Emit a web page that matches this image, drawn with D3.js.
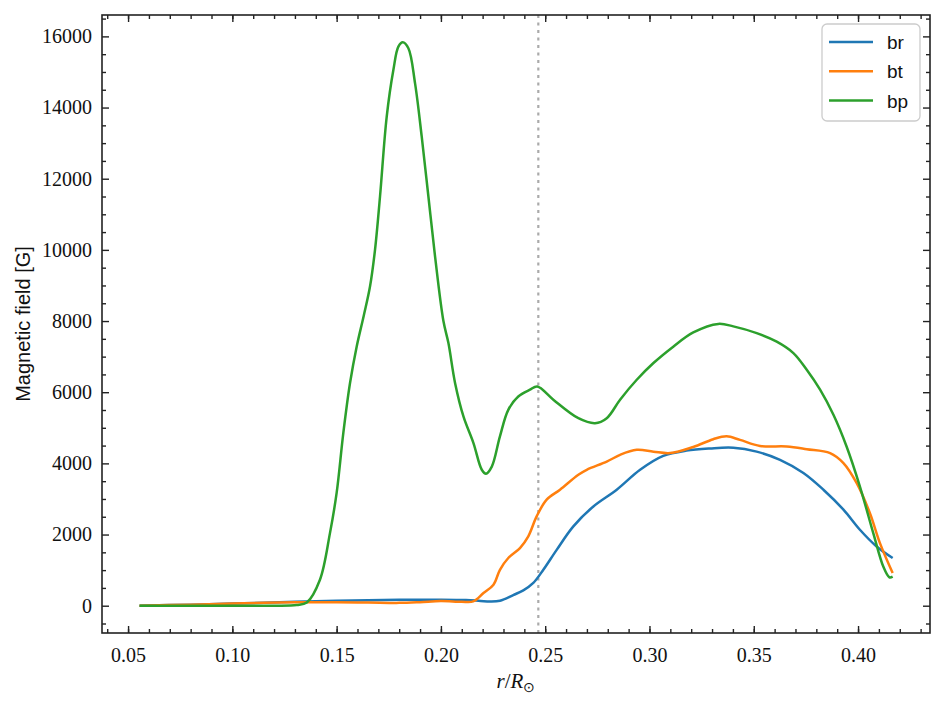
<!DOCTYPE html>
<html><head><meta charset="utf-8">
<script src="https://cdn.jsdelivr.net/npm/d3@7"></script>
<style>body{margin:0;background:#fff}</style>
</head><body>
<svg id="c" width="945" height="705"></svg>
<script>
const seriesNames = ["br", "bt", "bp"];
const seriesColors = ["#1f77b4", "#ff7f0e", "#2ca02c"];
const xTicks = [0.05, 0.10, 0.15, 0.20, 0.25, 0.30, 0.35, 0.40];
const yTicks = [0, 2000, 4000, 6000, 8000, 10000, 12000, 14000, 16000];
const vLineX = 0.2467;

const brX = [0.0555,0.08,0.10,0.13,0.15,0.18,0.20,0.212,0.219,0.2235,0.2283,0.2347,0.2395,0.2443,0.2491,0.2555,0.2635,0.2731,0.2843,0.2955,0.3066,0.3178,0.329,0.3402,0.3514,0.3626,0.3738,0.3834,0.393,0.4009,0.4089,0.4166];
const brY = [0,30,60,110,140,165,170,160,135,120,140,300,430,640,1010,1570,2230,2790,3260,3820,4210,4360,4420,4440,4330,4100,3730,3260,2700,2135,1665,1340];

const btX = [0.0555,0.08,0.10,0.13,0.15,0.165,0.18,0.19,0.20,0.21,0.2155,0.2204,0.2252,0.2283,0.2323,0.2379,0.2419,0.2459,0.2507,0.2571,0.2659,0.2699,0.2795,0.2859,0.2939,0.3019,0.3099,0.321,0.3306,0.337,0.3434,0.353,0.3658,0.3754,0.3866,0.393,0.3993,0.4057,0.4105,0.4166];
const btY = [0,30,60,95,95,90,80,100,130,110,120,355,590,1010,1340,1620,1950,2510,2980,3260,3680,3820,4050,4240,4380,4330,4290,4460,4680,4760,4660,4490,4475,4400,4290,4010,3450,2600,1760,920];

const bpX = [0.0555,0.09,0.12,0.1309,0.1357,0.142,0.1468,0.150,0.1532,0.1564,0.1596,0.1630,0.166,0.1684,0.1708,0.174,0.1772,0.1796,0.1817,0.1844,0.1876,0.1908,0.194,0.1972,0.2012,0.2036,0.2068,0.2108,0.2156,0.2196,0.2216,0.2244,0.2283,0.2323,0.2371,0.2427,0.2462,0.2539,0.2659,0.2739,0.2795,0.2859,0.2939,0.3019,0.3114,0.321,0.333,0.3402,0.3514,0.361,0.369,0.3754,0.3818,0.3882,0.3945,0.4009,0.4073,0.4121,0.4150,0.4166];
const bpY = [0,0,0,20,90,730,2040,3170,4850,6250,7280,8150,8970,10000,11500,13740,15055,15710,15834,15665,14680,13180,11500,9810,8000,7380,6255,5320,4570,3820,3710,3910,4760,5505,5880,6070,6160,5790,5270,5130,5270,5790,6350,6820,7280,7680,7920,7850,7660,7420,7100,6630,6070,5365,4475,3350,2040,1100,800,820];

const seriesX = [brX, btX, bpX];
const seriesY = [brY, btY, bpY];

const svg = d3.select("#c");
const L = 102, R = 930, T = 15, B = 633;
const x = d3.scaleLinear().domain([0.0375, 0.4345]).range([L, R]);
const y = d3.scaleLinear().domain([-767, 16601]).range([B, T]);

svg.append("clipPath").attr("id","cp").append("rect").attr("x",L).attr("y",T).attr("width",R-L).attr("height",B-T);
const g = svg.append("g").attr("clip-path","url(#cp)");
g.append("line").attr("x1",x(vLineX)).attr("x2",x(vLineX)).attr("y1",T).attr("y2",B)
  .attr("stroke","#aaaaaa").attr("stroke-width",2.2).attr("stroke-dasharray","3,4.5");
const line = d3.line().x(d=>x(d[0])).y(d=>y(d[1])).curve(d3.curveCatmullRom.alpha(0.5));
seriesNames.forEach((n,i)=>{
  const pts = seriesX[i].map((v,j)=>[v, seriesY[i][j]]);
  g.append("path").attr("d", line(pts)).attr("fill","none").attr("stroke",seriesColors[i])
    .attr("stroke-width",2.5).attr("stroke-linejoin","round").attr("stroke-linecap","butt");
});

const serif = "'Liberation Serif','Times New Roman',serif";
const sans = "'Liberation Sans',Arial,Helvetica,sans-serif";
function mkAxis(axis, tr){ const a = svg.append("g").attr("transform",tr).call(axis);
  a.select(".domain").remove(); a.selectAll("line").attr("stroke","#222").attr("stroke-width",1.4); return a; }
const xMinor = d3.range(4, 44).map(v=>v/100).filter(v=>v>0.0375&&v<0.4345);
const yMinor = d3.range(-500, 16601, 500).filter(v=>v%2000!==0);
const bx = mkAxis(d3.axisBottom(x).tickValues(xTicks).tickSizeInner(-7).tickSizeOuter(0).tickPadding(10).tickFormat(d3.format(".2f")), `translate(0,${B})`);
bx.selectAll("text").attr("font-family",serif).attr("font-size",20).attr("fill","#111").attr("dy","0.95em");
mkAxis(d3.axisBottom(x).tickValues(xMinor).tickSizeInner(-4).tickSizeOuter(0).tickFormat(""), `translate(0,${B})`);
mkAxis(d3.axisTop(x).tickValues(xTicks).tickSizeInner(-7).tickSizeOuter(0).tickFormat(""), `translate(0,${T})`);
mkAxis(d3.axisTop(x).tickValues(xMinor).tickSizeInner(-4).tickSizeOuter(0).tickFormat(""), `translate(0,${T})`);
const ly = mkAxis(d3.axisLeft(y).tickValues(yTicks).tickSizeInner(-7).tickSizeOuter(0).tickPadding(10).tickFormat(d3.format("d")), `translate(${L},0)`);
ly.selectAll("text").attr("font-family",serif).attr("font-size",20).attr("fill","#111");
mkAxis(d3.axisLeft(y).tickValues(yMinor).tickSizeInner(-4).tickSizeOuter(0).tickFormat(""), `translate(${L},0)`);
mkAxis(d3.axisRight(y).tickValues(yTicks).tickSizeInner(-7).tickSizeOuter(0).tickFormat(""), `translate(${R},0)`);
mkAxis(d3.axisRight(y).tickValues(yMinor).tickSizeInner(-4).tickSizeOuter(0).tickFormat(""), `translate(${R},0)`);
svg.append("rect").attr("x",L).attr("y",T).attr("width",R-L).attr("height",B-T)
  .attr("fill","none").attr("stroke","#222").attr("stroke-width",1.6);

const xl = svg.append("text").attr("x",(L+R)/2).attr("y",688).attr("text-anchor","middle")
  .attr("font-family",serif).attr("font-size",21).attr("fill","#111");
xl.append("tspan").attr("font-style","italic").text("r");
xl.append("tspan").text("/");
xl.append("tspan").attr("font-style","italic").text("R");
xl.append("tspan").attr("font-size",14).attr("dy",4).text("⊙");
svg.append("text").attr("transform",`translate(30,${(T+B)/2}) rotate(-90)`).attr("text-anchor","middle")
  .attr("font-family",sans).attr("font-size",20).attr("fill","#111").text("Magnetic field [G]");

const lg = svg.append("g");
lg.append("rect").attr("x",822).attr("y",24).attr("width",98).attr("height",97).attr("rx",5)
  .attr("fill","#fff").attr("fill-opacity",0.85).attr("stroke","#cccccc").attr("stroke-width",1.3);
seriesNames.forEach((n,i)=>{
  const yy = 42 + i*29.3;
  lg.append("line").attr("x1",829).attr("x2",873).attr("y1",yy).attr("y2",yy)
    .attr("stroke",seriesColors[i]).attr("stroke-width",2.5);
  lg.append("text").attr("x",887).attr("y",yy+7).attr("font-family",sans).attr("font-size",19)
    .attr("fill","#111").text(n);
});
</script>
</body></html>
